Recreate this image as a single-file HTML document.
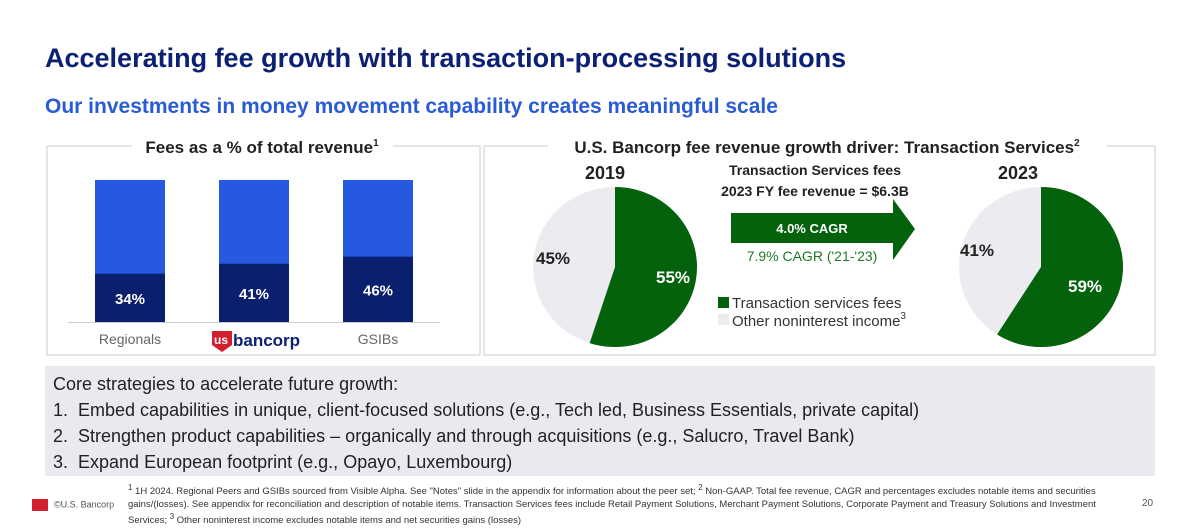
<!DOCTYPE html>
<html><head><meta charset="utf-8"><style>
body{margin:0;width:1200px;height:524px;background:#fff;font-family:"Liberation Sans",sans-serif;position:relative;overflow:hidden}
.a{position:absolute;white-space:nowrap}
</style></head><body>
<div class="a" style="left:45px;top:43px;font-size:27px;font-weight:bold;color:#0c2074">Accelerating fee growth with transaction-processing solutions</div>
<div class="a" style="left:45px;top:95px;font-size:21px;font-weight:bold;color:#2a5bd7">Our investments in money movement capability creates meaningful scale</div>
<svg class="a" style="left:0;top:0" width="1200" height="524" id="svg"></svg>
<div class="a" style="left:45px;top:366px;width:1110px;height:110px;background:#e9e9ef;font-size:18px;color:#222;line-height:26px;padding:5px 0 0 8px;box-sizing:border-box">
<div>Core strategies to accelerate future growth:</div>
<div>1.&nbsp; Embed capabilities in unique, client-focused solutions (e.g., Tech led, Business Essentials, private capital)</div>
<div>2.&nbsp; Strengthen product capabilities – organically and through acquisitions (e.g., Salucro, Travel Bank)</div>
<div>3.&nbsp; Expand European footprint (e.g., Opayo, Luxembourg)</div>
</div>
<div class="a" style="left:128px;top:482px;width:1000px;white-space:normal;font-family:'Liberation Sans Narrow','Liberation Sans',sans-serif;font-size:9.5px;line-height:12.5px;color:#333"><sup>1</sup> 1H 2024. Regional Peers and GSIBs sourced from Visible Alpha. See "Notes" slide in the appendix for information about the peer set; <sup>2</sup> Non-GAAP. Total fee revenue, CAGR and percentages excludes notable items and securities gains/(losses). See appendix for reconciliation and description of notable items. Transaction Services fees include Retail Payment Solutions, Merchant Payment Solutions, Corporate Payment and Treasury Solutions and Investment Services; <sup>3</sup> Other noninterest income excludes notable items and net securities gains (losses)</div>
<div class="a" style="left:32px;top:499px;font-size:9px;color:#555"><span style="display:inline-block;width:16px;height:12px;background:#d0202e;vertical-align:middle;margin-right:6px"></span>©U.S. Bancorp</div>
<div class="a" style="left:1142px;top:498px;font-size:10px;color:#555">20</div>
<script>
const barCats=['Regionals','usbancorp','GSIBs'];
const feeVals=[34,41,46];
const pieYears=['2019','2023'];
const pieTS=[55,59];
const S='http://www.w3.org/2000/svg';
const svg=document.getElementById('svg');
function mk(t,a,p){const e=document.createElementNS(S,t);for(const k in a)e.setAttribute(k,a[k]);(p||svg).appendChild(e);return e;}
function tx(x,y,s,o){const e=mk('text',Object.assign({x:x,y:y,'font-family':'Liberation Sans, sans-serif'},o));e.textContent=s;return e;}
function sup(t,s){const e=mk('tspan',{'font-size':10,dy:-7},t);e.textContent=s;}
let p1=mk('path',{d:'M132 146H47V355H480V146H393',fill:'none',stroke:'#ccc'});

let p2=mk('path',{d:'M548 146H484V355H1155V146H1107',fill:'none',stroke:'#ccc'});

let t1=tx(262,153,'Fees as a % of total revenue',{'font-size':17,'font-weight':'bold','text-anchor':'middle',fill:'#222'});

sup(t1,'1');
let t2=tx(827,153,'U.S. Bancorp fee revenue growth driver: Transaction Services',{'font-size':17,'font-weight':'bold','text-anchor':'middle',fill:'#222'});

sup(t2,'2');
const base=322,top0=180,bw=70;
const yS=v=>base-(v/100)*(base-top0);
barCats.forEach((c,i)=>{const x=95+i*124;
 let r=mk('rect',{x:x,y:top0,width:bw,height:base-top0,fill:'#2459e0'});
 
 let d=mk('rect',{x:x,y:yS(feeVals[i]),width:bw,height:base-yS(feeVals[i]),fill:'#0a1f6e'});
 
 let l=tx(x+bw/2,(yS(feeVals[i])+base)/2+6,feeVals[i]+'%',{'font-size':15,'font-weight':'bold','text-anchor':'middle',fill:'#fff'});
 
 if(c!=='usbancorp'){let k=tx(x+bw/2,344,c,{'font-size':14,'text-anchor':'middle',fill:'#666'});}
});
let ax=mk('line',{x1:68,x2:440,y1:base+.5,y2:base+.5,stroke:'#ccc'});

let lg=mk('path',{d:'M212 331h20v14l-10 7l-10-7z',fill:'#d0202e'});

tx(214,344,'us',{'font-size':12,'font-weight':'bold',fill:'#fff'});
tx(233,346,'bancorp',{'font-size':17,'font-weight':'bold',fill:'#0c2074'});
const cx=[615,1041],cy=267,rx=82,ry=80;
const oth=[[553,264],[977,256]],gr=[[673,283],[1085,292]];
pieYears.forEach((yr,i)=>{
 const v=pieTS[i]/100,a=v*2*Math.PI;
 const px=cx[i]+rx*Math.sin(a),py=cy-ry*Math.cos(a);
 let o=mk('ellipse',{cx:cx[i],cy:cy,rx:rx,ry:ry,fill:'#ebebf0'});
 
 let g=mk('path',{d:`M${cx[i]} ${cy}L${cx[i]} ${cy-ry}A${rx} ${ry} 0 ${v>0.5?1:0} 1 ${px} ${py}Z`,fill:'#04620d'});
 
 let l1=tx(gr[i][0],gr[i][1],pieTS[i]+'%',{'font-size':17,'font-weight':'bold','text-anchor':'middle',fill:'#fff'});
 
 let l2=tx(oth[i][0],oth[i][1],(100-pieTS[i])+'%',{'font-size':17,'font-weight':'bold','text-anchor':'middle',fill:'#222'});
 
 let y=tx(i?1018:605,179,yr,{'font-size':18,'font-weight':'bold','text-anchor':'middle',fill:'#222'});
 
});
tx(815,175,'Transaction Services fees',{'font-size':14,'font-weight':'bold','text-anchor':'middle',fill:'#222'});
tx(815,196,'2023 FY fee revenue = $6.3B',{'font-size':14,'font-weight':'bold','text-anchor':'middle',fill:'#222'});
let ar=mk('path',{d:'M731 213H893V199L915 229L893 260V243H731Z',fill:'#04620d'});

tx(812,233,'4.0% CAGR',{'font-size':13,'font-weight':'bold','text-anchor':'middle',fill:'#fff'});
tx(812,261,"7.9% CAGR ('21-'23)",{'font-size':14,'text-anchor':'middle',fill:'#1e7a28'});
let lg1=mk('rect',{x:718,y:297,width:11,height:11,fill:'#04620d'});
tx(732,308,'Transaction services fees',{'font-size':15,fill:'#333'});
let lg2=mk('rect',{x:718,y:314,width:11,height:11,fill:'#ebebf0'});
let t3=tx(732,326,'Other noninterest income',{'font-size':15,fill:'#333'});
sup(t3,'3');
</script>
</body></html>
